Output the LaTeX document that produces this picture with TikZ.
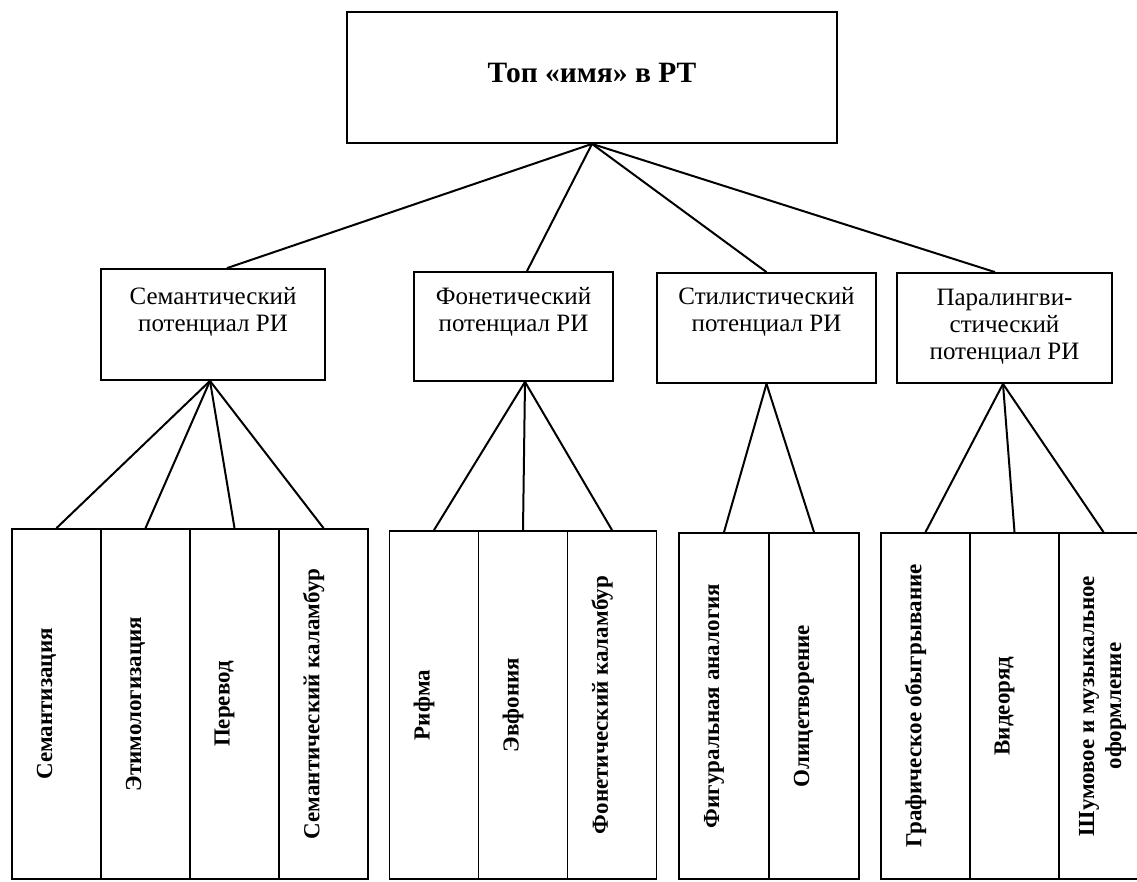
\documentclass[tikz,border=0pt]{standalone}
\usepackage{fontspec}
\setmainfont{Liberation Serif}
\begin{document}
\begin{tikzpicture}[x=1pt,y=-1pt,
  box/.style={draw, line width=1.8pt, inner sep=0pt},
  colbox/.style={box, minimum width=#1, minimum height=348pt},
  conn/.style={line width=2pt},
  toptext/.style={font=\fontsize{29.5}{32}\selectfont\bfseries, inner sep=0pt},
  midtext/.style={font=\fontsize{25}{27}\selectfont, align=center, anchor=north, inner sep=0pt},
  coltext/.style={font=\fontsize{23}{27}\selectfont\bfseries, rotate=90, align=center, inner sep=0pt}]
\useasboundingbox (0,0) rectangle (1137,881);
\clip (0,0) rectangle (1137,881);

% top
\node[box, minimum width=490pt, minimum height=131pt] (top) at (592,77.5) {};
\node[toptext] (toplbl) at ([yshift=5pt]top.center) {Топ «имя» в РТ};

% middle level
\node[box, minimum width=224pt, minimum height=111pt] (sem) at (213,324.5) {};
\node[midtext] (semlbl) at ([yshift=-19pt]sem.north) {Семантический\\потенциал РИ};
\node[box, minimum width=199pt, minimum height=109pt] (fon) at (513.5,326.5) {};
\node[midtext] (fonlbl) at ([yshift=-16pt]fon.north) {Фонетический\\потенциал РИ};
\node[box, minimum width=219pt, minimum height=110pt] (sti) at (766.5,328) {};
\node[midtext] (stilbl) at ([yshift=-15pt]sti.north) {Стилистический\\потенциал РИ};
\node[box, minimum width=215pt, minimum height=110pt] (par) at (1004.5,328) {};
\node[midtext] (parlbl) at ([yshift=-17pt]par.north) {Паралингви-\\стический\\потенциал РИ};

% bottom level, group 1
\node[colbox=89pt, minimum height=350pt] (a1) at (56.5,704) {};
\node[colbox=89pt, minimum height=350pt] (a2) at (145.5,704) {};
\node[colbox=89pt, minimum height=350pt] (a3) at (234.5,704) {};
\node[colbox=89pt, minimum height=350pt] (a4) at (323.5,704) {};
\node[coltext] (a1t) at ([xshift=-10pt]a1.center) {Семантизация};
\node[coltext] (a2t) at ([xshift=-10pt]a2.center) {Этимологизация};
\node[coltext] (a3t) at ([xshift=-10pt]a3.center) {Перевод};
\node[coltext] (a4t) at ([xshift=-10pt]a4.center) {Семантический каламбур};

% group 2
\node[colbox=89pt] (b1) at (434,705) {};
\node[colbox=89pt] (b2) at (523,705) {};
\node[colbox=89pt] (b3) at (612,705) {};
\node[coltext] (b1t) at ([xshift=-10pt]b1.center) {Рифма};
\node[coltext] (b2t) at ([xshift=-10pt]b2.center) {Эвфония};
\node[coltext] (b3t) at ([xshift=-10pt]b3.center) {Фонетический каламбур};

% group 3
\node[colbox=90pt, minimum height=346pt] (c1) at (724,706) {};
\node[colbox=90pt, minimum height=346pt] (c2) at (814,706) {};
\node[coltext] (c1t) at ([xshift=-10pt]c1.center) {Фигуральная аналогия};
\node[coltext] (c2t) at ([xshift=-10pt]c2.center) {Олицетворение};

% group 4
\node[colbox=89pt, minimum height=346pt] (d1) at (925.5,706) {};
\node[colbox=89pt, minimum height=346pt] (d2) at (1014.5,706) {};
\node[colbox=89pt, minimum height=346pt] (d3) at (1103.5,706) {};
\node[coltext] (d1t) at ([xshift=-10pt]d1.center) {Графическое обыгрывание};
\node[coltext] (d2t) at ([xshift=-10pt]d2.center) {Видеоряд};
\node[coltext] (d3t) at ([xshift=-1pt]d3.center) {Шумовое и музыкальное\\оформление};

% connectors top -> middle
\draw[conn] (top.south) -- ([xshift=14pt]sem.north);
\draw[conn] (top.south) -- ([xshift=13.5pt]fon.north);
\draw[conn] (top.south) -- (sti.north);
\draw[conn] (top.south) -- ([xshift=-9.5pt]par.north);

% middle -> bottom
\draw[conn] ([xshift=-3pt]sem.south) -- (a1.north);
\draw[conn] ([xshift=-3pt]sem.south) -- (a2.north);
\draw[conn] ([xshift=-3pt]sem.south) -- (a3.north);
\draw[conn] ([xshift=-3pt]sem.south) -- (a4.north);
\draw[conn] ([xshift=11.5pt]fon.south) -- (b1.north);
\draw[conn] ([xshift=11.5pt]fon.south) -- (b2.north);
\draw[conn] ([xshift=11.5pt]fon.south) -- (b3.north);
\draw[conn] (sti.south) -- (c1.north);
\draw[conn] (sti.south) -- (c2.north);
\draw[conn] ([xshift=-1.5pt]par.south) -- (d1.north);
\draw[conn] ([xshift=-1.5pt]par.south) -- (d2.north);
\draw[conn] ([xshift=-1.5pt]par.south) -- (d3.north);
\end{tikzpicture}
\end{document}
